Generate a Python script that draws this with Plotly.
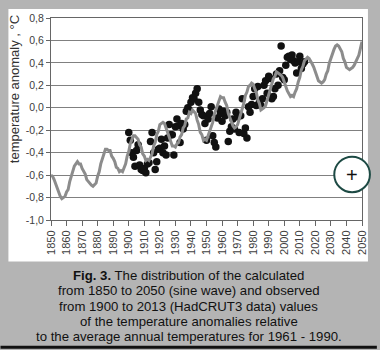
import plotly.graph_objects as go

# ---- data ----
calc_years = list(range(1850, 2051))
calc_vals = [
    -0.60, -0.61, -0.64, -0.68, -0.73, -0.77, -0.79, -0.81, -0.80, -0.79,  # 1850-1859
    -0.75, -0.73, -0.66, -0.61, -0.56, -0.52, -0.50, -0.48, -0.50, -0.50,  # 1860-1869
    -0.54, -0.57, -0.59, -0.64, -0.66, -0.67, -0.69, -0.70, -0.68, -0.67,  # 1870-1879
    -0.61, -0.57, -0.50, -0.46, -0.40, -0.37, -0.37, -0.38, -0.38, -0.43,  # 1880-1889
    -0.45, -0.48, -0.53, -0.54, -0.57, -0.56, -0.57, -0.53, -0.50, -0.43,  # 1890-1899
    -0.39, -0.32, -0.29, -0.25, -0.25, -0.27, -0.28, -0.33, -0.35, -0.41,  # 1900-1909
    -0.43, -0.47, -0.46, -0.47, -0.43, -0.41, -0.34, -0.31, -0.24, -0.21,  # 1910-1919
    -0.15, -0.14, -0.13, -0.14, -0.18, -0.21, -0.27, -0.30, -0.34, -0.34,  # 1920-1929
    -0.35, -0.32, -0.31, -0.26, -0.24, -0.18, -0.16, -0.10, -0.09, -0.04,  # 1930-1939
    -0.05, -0.02, -0.04, -0.05, -0.11, -0.15, -0.22, -0.24, -0.29, -0.28,  # 1940-1949
    -0.29, -0.25, -0.23, -0.17, -0.13, -0.06, -0.02, 0.04, 0.06, 0.10,     # 1950-1959
    0.09, 0.09, 0.05, 0.02, -0.05, -0.09, -0.14, -0.16, -0.18, -0.17,      # 1960-1969
    -0.15, -0.10, -0.07, 0.00, 0.04, 0.11, 0.14, 0.19, 0.20, 0.22,         # 1970-1979
    0.21, 0.17, 0.14, 0.07, 0.04, -0.02, -0.01, 0.00, 0.02, 0.07,          # 1980-1989
    0.10, 0.16, 0.20, 0.26, 0.28, 0.32, 0.31, 0.30, 0.29, 0.27,            # 1990-1999
    0.22, 0.19, 0.15, 0.13, 0.10, 0.11, 0.10, 0.14, 0.17, 0.23,            # 2000-2009
    0.27, 0.34, 0.37, 0.42, 0.44, 0.45, 0.44, 0.42, 0.39, 0.36,            # 2010-2019
    0.31, 0.28, 0.24, 0.23, 0.22, 0.23, 0.25, 0.30, 0.33, 0.40,            # 2020-2029
    0.44, 0.50, 0.52, 0.55, 0.56, 0.55, 0.52, 0.50, 0.44, 0.41,            # 2030-2039
    0.36, 0.35, 0.34, 0.35, 0.36, 0.38, 0.41, 0.43, 0.47, 0.53,            # 2040-2049
    0.59,                                                                  # 2050
]

obs_years = list(range(1900, 2014))
obs_vals = [
    -0.22, -0.29, -0.40, -0.44, -0.52, -0.38, -0.33, -0.51, -0.55, -0.56,  # 1900-1909
    -0.54, -0.58, -0.50, -0.49, -0.30, -0.22, -0.40, -0.55, -0.48, -0.37,  # 1910-1919
    -0.36, -0.28, -0.40, -0.34, -0.42, -0.27, -0.15, -0.24, -0.24, -0.42,  # 1920-1929
    -0.17, -0.10, -0.16, -0.31, -0.14, -0.19, -0.15, -0.03, 0.00, -0.02,   # 1930-1939
    0.05, 0.09, 0.08, 0.13, 0.17, 0.05, -0.02, -0.06, -0.07, -0.14,        # 1940-1949
    -0.29, -0.10, -0.05, 0.01, -0.25, -0.31, -0.35, -0.09, -0.01, -0.05,   # 1950-1959
    -0.12, -0.03, -0.07, -0.04, -0.30, -0.21, -0.17, -0.10, -0.19, -0.04,  # 1960-1969
    -0.08, -0.22, -0.07, 0.08, -0.23, -0.18, -0.27, 0.01, -0.04, 0.03,     # 1970-1979
    0.10, 0.17, 0.02, 0.19, 0.05, 0.02, 0.08, 0.20, 0.24, 0.13,            # 1980-1989
    0.28, 0.26, 0.08, 0.10, 0.17, 0.30, 0.20, 0.33, 0.55, 0.27,            # 1990-1999
    0.25, 0.38, 0.45, 0.46, 0.43, 0.47, 0.42, 0.40, 0.31, 0.41,            # 2000-2009
    0.46, 0.35, 0.39, 0.41,                                                # 2010-2013
]

x_ticks = list(range(1850, 2051, 10))
y_ticks = [-1.0, -0.8, -0.6, -0.4, -0.2, 0.0, 0.2, 0.4, 0.6, 0.8]
y_tick_text = ["-1,0", "-0,8", "-0,6", "-0,4", "-0,2", "0,0", "0,2", "0,4", "0,6", "0,8"]

y_title = "temperature anomaly , °C"
caption_lines = [
    "<b>Fig. 3.</b> The distribution of the calculated",
    "from 1850 to 2050 (sine wave) and observed",
    "from 1900 to 2013 (HadCRUT3 data) values",
    "of the temperature anomalies relative",
    "to the average annual temperatures for 1961 - 1990.",
]

# ---- geometry (pixels) ----
W, H = 380, 350
L, R, T, B = 51, 15, 16, 130
PW, PH = W - L - R, H - T - B


def px(xp):
    return (xp - L) / PW


def py(yp):
    return (H - B - yp) / PH


FONT = "Liberation Sans, Arial, sans-serif"

fig = go.Figure()
fig.add_trace(go.Scatter(
    x=obs_years, y=obs_vals, mode="markers",
    marker=dict(color="#111111", size=7.5, line=dict(width=0)),
    showlegend=False, hoverinfo="skip",
))
fig.add_trace(go.Scatter(
    x=calc_years, y=calc_vals, mode="lines",
    line=dict(color="#8c8c8c", width=3),
    showlegend=False, hoverinfo="skip",
))

shapes = [
    # white panel
    dict(type="rect", xref="paper", yref="paper", x0=px(8), x1=px(371), y0=py(262), y1=py(7),
         fillcolor="white", line=dict(width=0), layer="below"),
    # bottom black rule
    dict(type="rect", xref="paper", yref="paper", x0=px(0), x1=px(380), y0=py(350), y1=py(347),
         fillcolor="#111111", line=dict(width=0), layer="below"),
    # zoom circle overlay
    dict(type="circle", xref="paper", yref="paper", x0=px(337), x1=px(373), y0=py(192), y1=py(156),
         fillcolor="white", line=dict(color="#1d4a44", width=2), layer="above"),
]

annotations = [
    dict(text=y_title, xref="paper", yref="paper", x=px(14), y=py(87.5), textangle=-90,
         showarrow=False, xanchor="center", yanchor="middle",
         font=dict(family=FONT, size=13, color="#333333")),
    dict(text="+", xref="paper", yref="paper", x=px(355), y=py(174.5),
         showarrow=False, xanchor="center", yanchor="middle",
         font=dict(family=FONT, size=20, color="#111111")),
]
cap_y = [276, 291.5, 307, 322.5, 338]
for line_text, yy in zip(caption_lines, cap_y):
    annotations.append(dict(
        text=line_text, xref="paper", yref="paper", x=px(190), y=py(yy),
        showarrow=False, xanchor="center", yanchor="middle",
        font=dict(family=FONT, size=13.2, color="#111111")))

fig.update_layout(
    width=W, height=H,
    margin=dict(l=L, r=R, t=T, b=B, pad=0),
    paper_bgcolor="#b4b4b4",
    plot_bgcolor="white",
    shapes=shapes,
    annotations=annotations,
    showlegend=False,
)
fig.update_xaxes(
    range=[1850, 2050], tickvals=x_ticks, ticktext=[str(v) for v in x_ticks],
    tickangle=-90, ticks="outside", ticklen=5, tickcolor="#666666", tickwidth=1,
    showline=True, linecolor="#666666", linewidth=1, mirror=True,
    showgrid=False, zeroline=False,
    tickfont=dict(family=FONT, size=11, color="#404040"),
)
fig.update_yaxes(
    range=[-1.0, 0.8], tickvals=y_ticks, ticktext=y_tick_text,
    ticks="outside", ticklen=4, tickcolor="#666666", tickwidth=1,
    showline=True, linecolor="#666666", linewidth=1, mirror=True,
    showgrid=True, gridcolor="#808080", gridwidth=1.3, zeroline=False,
    tickfont=dict(family=FONT, size=10.5, color="#404040"),
)

fig.write_html("out.html")
